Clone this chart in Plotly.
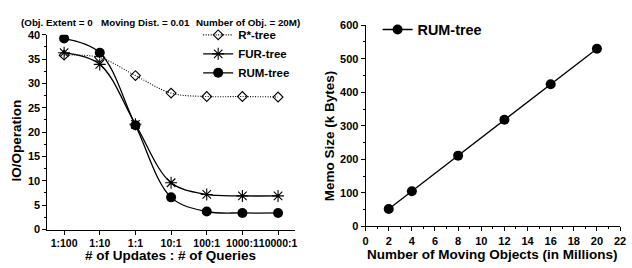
import plotly.graph_objects as go

ratios = ["1:100", "1:10", "1:1", "10:1", "100:1", "1000:1", "10000:1"]
rstar = [35.8, 35.3, 31.6, 28.0, 27.3, 27.3, 27.2]
fur = [36.3, 33.9, 21.6, 9.6, 7.2, 6.9, 6.9]
rum = [39.2, 36.3, 21.4, 6.6, 3.7, 3.4, 3.4]

objects = [2, 4, 8, 12, 16, 20]
memo = [52, 105, 211, 318, 424, 530]

note_parts = ["(Obj. Extent = 0", "Moving Dist. = 0.01", "Number of Obj. = 20M)"]

FONT = "Liberation Sans"
BLACK = "#000000"
xi = list(range(len(ratios)))

fig = go.Figure()
fig.add_trace(go.Scatter(x=xi, y=rstar, name="R*-tree", mode="lines+markers",
                         line=dict(color=BLACK, width=1.1, dash="1px,1.5px", shape="spline", smoothing=1),
                         marker=dict(symbol="diamond-open", size=7.5, color=BLACK, line=dict(width=1.1, color=BLACK)),
                         xaxis="x", yaxis="y", legend="legend"))
fig.add_trace(go.Scatter(x=xi, y=fur, name="FUR-tree", mode="lines+markers",
                         line=dict(color=BLACK, width=1.3, shape="spline", smoothing=1),
                         marker=dict(symbol="asterisk-open", size=10, color=BLACK, line=dict(width=1.1, color=BLACK)),
                         xaxis="x", yaxis="y", legend="legend"))
fig.add_trace(go.Scatter(x=xi, y=rum, name="RUM-tree", mode="lines+markers",
                         line=dict(color=BLACK, width=1.3, shape="spline", smoothing=1),
                         marker=dict(symbol="circle", size=10, color=BLACK),
                         xaxis="x", yaxis="y", legend="legend"))
fig.add_trace(go.Scatter(x=objects, y=memo, name="RUM-tree", mode="lines+markers",
                         line=dict(color=BLACK, width=1.3),
                         marker=dict(symbol="circle", size=10, color=BLACK),
                         xaxis="x2", yaxis="y2", legend="legend2"))

xtickfont = dict(family=FONT, size=10.5, color=BLACK, weight="bold")
ytickfont = dict(family=FONT, size=11, color=BLACK, weight="bold")
axis_common = dict(showline=True, linecolor=BLACK, linewidth=1, showgrid=False, zeroline=False,
                   ticks="outside", ticklen=4, tickwidth=1, tickcolor=BLACK, mirror=False)

note_font = dict(family=FONT, size=9.8, color=BLACK, weight="bold")
note_x = [16, 97, 194]
note_ann = [dict(text=t, x=px / 632, y=1 - 17 / 268, xref="paper", yref="paper", showarrow=False,
                 xanchor="left", yanchor="middle", font=note_font)
            for t, px in zip(note_parts, note_x)]

fig.update_layout(
    width=632, height=268,
    margin=dict(l=0, r=0, t=0, b=0),
    paper_bgcolor="white", plot_bgcolor="white",
    showlegend=True,
    xaxis=dict(domain=[0.0712, 0.4684], range=[-0.47, 6.47], tickmode="array",
               tickvals=xi, ticktext=ratios, tickangle=0, anchor="y", tickfont=xtickfont,
               **axis_common),
    yaxis=dict(domain=[0.1269, 0.888], range=[0, 40], tickmode="linear", tick0=0, dtick=5,
               anchor="x", minor=dict(dtick=2.5, ticks="outside", ticklen=2, tickcolor=BLACK),
               tickfont=ytickfont, **axis_common),
    xaxis2=dict(domain=[0.582, 0.9905], range=[0, 22], tickmode="linear", tick0=0, dtick=2,
                anchor="y2", minor=dict(dtick=1, ticks="outside", ticklen=2, tickcolor=BLACK),
                tickfont=ytickfont, **axis_common),
    yaxis2=dict(domain=[0.139, 0.925], range=[0, 600], tickmode="linear", tick0=0, dtick=100,
                anchor="x2", minor=dict(dtick=50, ticks="outside", ticklen=2, tickcolor=BLACK),
                tickfont=ytickfont, **axis_common),
    legend=dict(x=198 / 632, y=1 - 15 / 268, xanchor="left", yanchor="top",
                bgcolor="rgba(0,0,0,0)", borderwidth=0, itemwidth=30,
                font=dict(family=FONT, size=11.5, color=BLACK, weight="bold"),
                tracegroupgap=0),
    legend2=dict(x=380 / 632, y=1 - 8 / 268, xanchor="left", yanchor="top",
                 bgcolor="rgba(0,0,0,0)", borderwidth=0, itemwidth=30,
                 font=dict(family=FONT, size=14.4, color=BLACK, weight="bold")),
    annotations=note_ann + [
        dict(text="# of Updates : # of Queries", x=170 / 632, y=1 - 261 / 268,
             xref="paper", yref="paper", showarrow=False, xanchor="center", yanchor="middle",
             font=dict(family=FONT, size=13.5, color=BLACK, weight="bold")),
        dict(text="IO/Operation", x=14 / 632, y=1 - 141 / 268, textangle=-90,
             xref="paper", yref="paper", showarrow=False, xanchor="center", yanchor="middle",
             font=dict(family=FONT, size=13.5, color=BLACK, weight="bold")),
        dict(text="Number of Moving Objects (in Millions)", x=497 / 632, y=1 - 260.5 / 268,
             xref="paper", yref="paper", showarrow=False, xanchor="center", yanchor="middle",
             font=dict(family=FONT, size=13.5, color=BLACK, weight="bold")),
        dict(text="Memo Size (k Bytes)", x=332 / 632, y=1 - 136 / 268, textangle=-90,
             xref="paper", yref="paper", showarrow=False, xanchor="center", yanchor="middle",
             font=dict(family=FONT, size=13.5, color=BLACK, weight="bold")),
    ],
)

fig.write_html("out.html", config={"displayModeBar": False},
               post_script="document.body.style.margin='0';document.body.style.overflow='hidden';")
